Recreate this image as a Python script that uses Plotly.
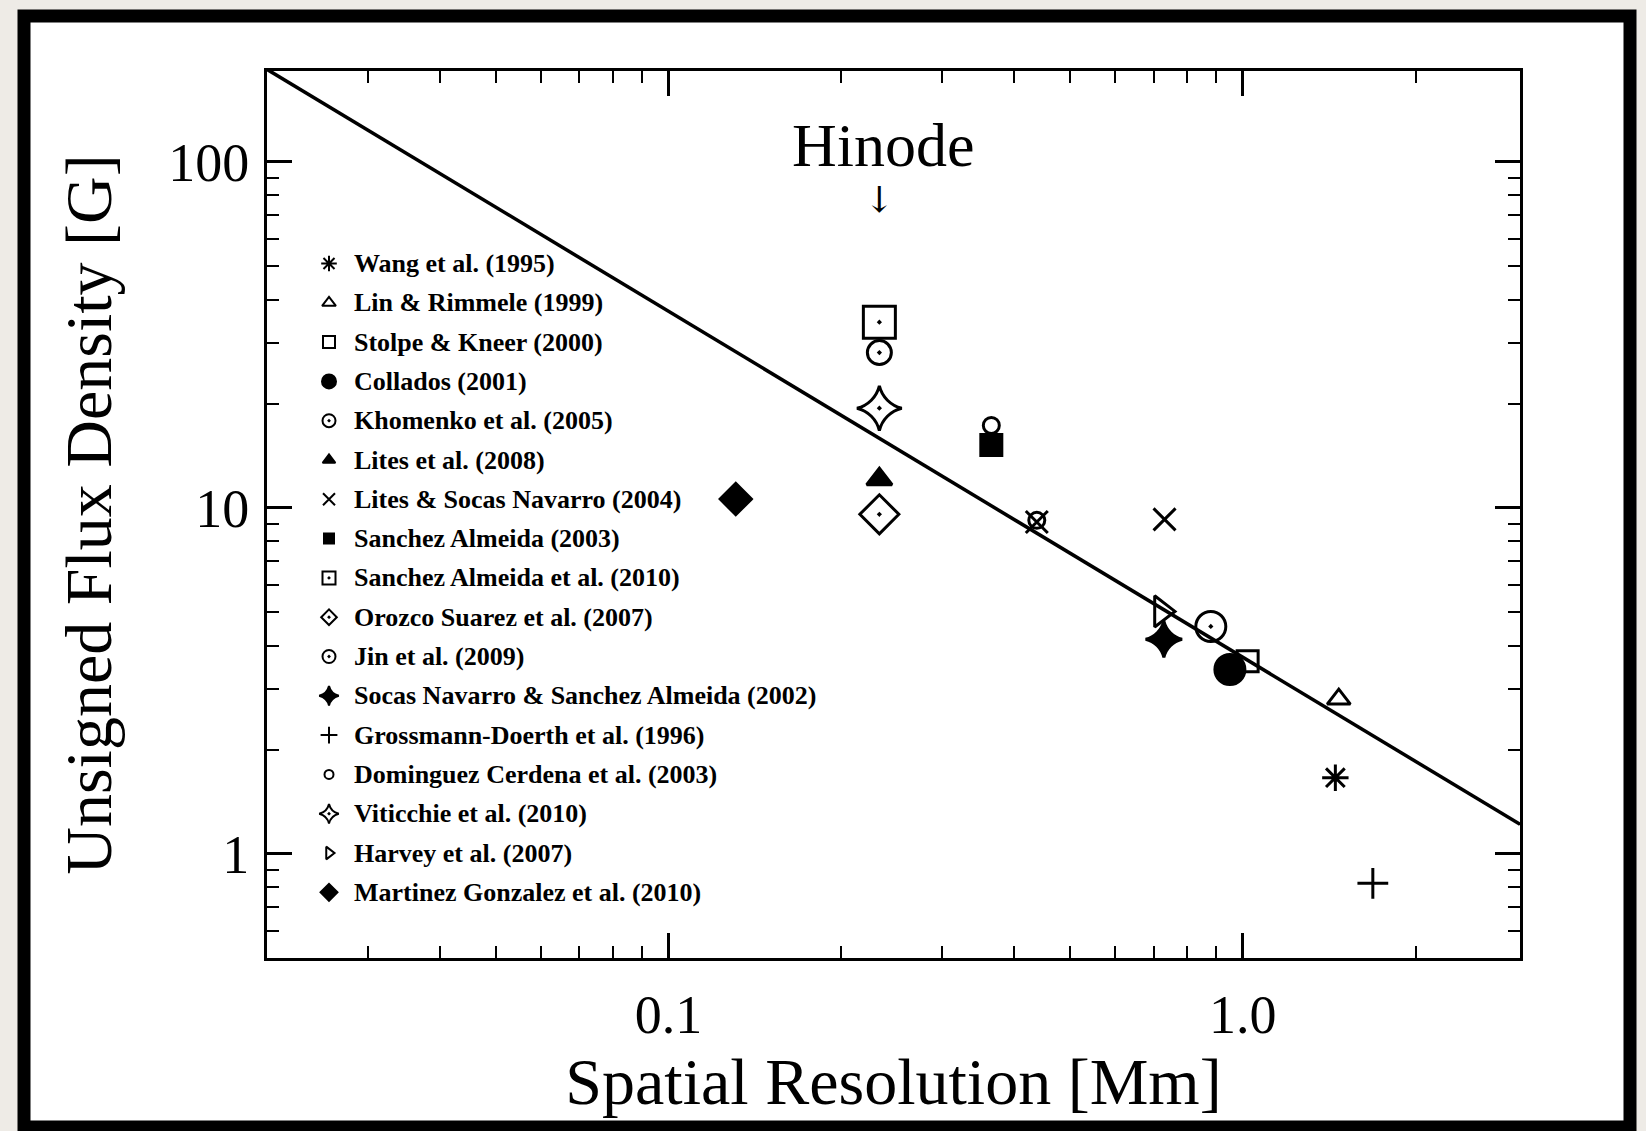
import math
import plotly.graph_objects as go

# ---- observations: spatial resolution [Mm] vs unsigned flux density [G] ----
studies = [
    "Wang et al. (1995)",
    "Lin & Rimmele (1999)",
    "Stolpe & Kneer (2000)",
    "Collados (2001)",
    "Khomenko et al. (2005)",
    "Lites et al. (2008)",
    "Lites & Socas Navarro (2004)",
    "Sanchez Almeida (2003)",
    "Sanchez Almeida et al. (2010)",
    "Orozco Suarez et al. (2007)",
    "Jin et al. (2009)",
    "Socas Navarro & Sanchez Almeida (2002)",
    "Grossmann-Doerth et al. (1996)",
    "Dominguez Cerdena et al. (2003)",
    "Viticchie et al. (2010)",
    "Harvey et al. (2007)",
    "Martinez Gonzalez et al. (2010)",
]

resolution = [
    [1.45],
    [1.47],
    [1.02],
    [0.95],
    [0.88],
    [0.233],
    [0.438, 0.731],
    [0.365],
    [0.233],
    [0.233],
    [0.233],
    [0.729],
    [1.685],
    [0.365, 0.438],
    [0.233],
    [0.722],
    [0.131],
]

flux_density = [
    [1.66],
    [2.80],
    [3.6],
    [3.41],
    [4.54],
    [12.1],
    [9.1, 9.26],
    [15.2],
    [34.4],
    [9.58],
    [28.1],
    [4.17],
    [0.822],
    [17.3, 9.2],
    [19.4],
    [5.02],
    [10.6],
]

symbols = [
    "asterisk-open", "triangle-up-open", "square-open", "circle",
    "circle-open-dot", "triangle-up", "x-thin-open", "square",
    "square-open-dot", "diamond-open-dot", "circle-open-dot", "star-diamond",
    "cross-thin-open", "circle-open", "star-diamond-open-dot",
    "triangle-right-open", "diamond",
]
plot_sizes = [22, 20, 21, 30, 30, 22, 22, 21, 32, 30, 24, 26, 22, 16, 32, 27, 24]
legend_sizes = [13, 12, 12, 14, 13, 11, 12, 10, 13, 12, 13, 14, 12, 9, 14, 11, 13]

# power-law reference line  B = C / L
fit_norm = 3.7
fit_x = [0.02, 3.04]

x_ticks = [0.1, 1.0]
x_tick_text = ["0.1", "1.0"]
x_minor = [0.03, 0.04, 0.05, 0.06, 0.07, 0.08, 0.09,
           0.2, 0.3, 0.4, 0.5, 0.6, 0.7, 0.8, 0.9, 2.0]
y_ticks = [1, 10, 100]
y_tick_text = ["1", "10", "100"]
y_minor = [0.6, 0.7, 0.8, 0.9, 2, 3, 4, 5, 6, 7, 8, 9,
           20, 30, 40, 50, 60, 70, 80, 90]
y_range = [0.5, 183]

# ---- page geometry (pixels) ----
W, H = 1646, 1131
PL, PR, PT, PB = 267, 1520, 71, 958


def px_to_paper_x(px):
    return (px - PL) / (PR - PL)


def px_to_paper_y(py):
    return (PB - py) / (PB - PT)


SERIF = "Liberation Serif"
INK = "black"

fig = go.Figure()

# reference line
fig.add_trace(go.Scatter(
    x=fit_x, y=[fit_norm / v for v in fit_x], mode="lines",
    line=dict(color=INK, width=3.5), showlegend=False, hoverinfo="skip",
))

# data points
for name, xs, ys, sym, sz in zip(studies, resolution, flux_density, symbols, plot_sizes):
    fig.add_trace(go.Scatter(
        x=xs, y=ys, mode="markers", name=name, showlegend=False,
        marker=dict(symbol=sym, size=sz, color=INK,
                    line=dict(color=INK, width=3)),
    ))

# key drawn inside the plotting area (overlay axes in 0..1 units)
row0_px, row_step_px = 263.5, 39.3
key_marker_x = px_to_paper_x(329)
key_text_x = px_to_paper_x(352)
key_rows = [px_to_paper_y(row0_px + i * row_step_px) for i in range(len(studies))]

for i, (name, sym, sz) in enumerate(zip(studies, symbols, legend_sizes)):
    fig.add_trace(go.Scatter(
        x=[key_marker_x], y=[key_rows[i]], xaxis="x2", yaxis="y2",
        mode="markers", showlegend=False, hoverinfo="skip",
        marker=dict(symbol=sym, size=sz, color=INK,
                    line=dict(color=INK, width=2)),
    ))
    fig.add_annotation(
        x=key_text_x, y=key_rows[i], xref="paper", yref="paper",
        text=name, showarrow=False, xanchor="left", yanchor="middle",
        font=dict(family=SERIF, size=26, color=INK, weight="bold"),
    )

# Hinode marker label
fig.add_annotation(
    x=math.log10(0.2365), y=math.log10(112), xref="x", yref="y",
    text="Hinode", showarrow=False, xanchor="center", yanchor="middle",
    font=dict(family=SERIF, size=62, color=INK),
)
fig.add_annotation(
    x=math.log10(0.233), y=math.log10(78), xref="x", yref="y",
    text="↓", showarrow=False, xanchor="center", yanchor="middle",
    font=dict(family="DejaVu Serif", size=36, color=INK),
)

# sketched frame around the figure
fig.add_shape(
    type="rect", xref="paper", yref="paper", layer="below",
    x0=px_to_paper_x(24), x1=px_to_paper_x(1630),
    y0=px_to_paper_y(1127), y1=px_to_paper_y(16),
    line=dict(color=INK, width=13), fillcolor="white",
)

axis_common = dict(
    type="log", showgrid=False, zeroline=False, showline=True,
    linecolor=INK, linewidth=3, mirror="allticks",
    ticks="inside", ticklen=25, tickwidth=2.5, tickcolor=INK,
    tickfont=dict(family=SERIF, size=54, color=INK),
)

fig.update_layout(
    width=W, height=H,
    margin=dict(l=PL, r=W - PR, t=PT, b=H - PB, autoexpand=False),
    paper_bgcolor="#eeebe6", plot_bgcolor="white",
    showlegend=False,
    xaxis=dict(
        **axis_common,
        range=[math.log10(fit_x[0]), math.log10(fit_x[1])],
        tickmode="array", tickvals=x_ticks, ticktext=x_tick_text,
        ticklabelstandoff=7,
        minor=dict(tickmode="array", tickvals=x_minor, ticks="inside",
                   ticklen=12, tickwidth=2, tickcolor=INK),
        title=dict(text="Spatial Resolution [Mm]", standoff=2,
                   font=dict(family=SERIF, size=66, color=INK)),
    ),
    yaxis=dict(
        **axis_common,
        range=[math.log10(y_range[0]), math.log10(y_range[1])],
        tickmode="array", tickvals=y_ticks, ticktext=y_tick_text,
        ticklabelstandoff=4,
        minor=dict(tickmode="array", tickvals=y_minor, ticks="inside",
                   ticklen=12, tickwidth=2, tickcolor=INK),
        title=dict(text="Unsigned Flux Density [G]", standoff=36,
                   font=dict(family=SERIF, size=66, color=INK)),
    ),
    xaxis2=dict(range=[0, 1], overlaying="x", visible=False, fixedrange=True),
    yaxis2=dict(range=[0, 1], overlaying="y", visible=False, fixedrange=True),
)

fig.write_html("out.html")
